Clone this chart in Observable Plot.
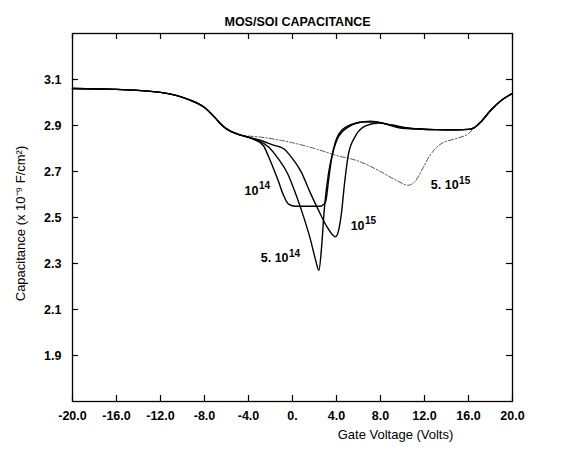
<!DOCTYPE html>
<html>
<head>
<meta charset="utf-8">
<script src="https://cdn.jsdelivr.net/npm/d3@7"></script>
<script src="https://cdn.jsdelivr.net/npm/@observablehq/plot@0.6"></script>
<style>
  body { margin: 0; background: #fff; }
  svg { font-family: "Liberation Sans", Arial, sans-serif; }
</style>
</head>
<body>
<div id="chart"></div>
<script>
// ---- data ----
const titleText = "MOS/SOI CAPACITANCE";
const xLabelText = "Gate Voltage (Volts)";
const yLabelText = "Capacitance (x 10⁻⁹ F/cm²)";

const xTicks = [-20, -16, -12, -8, -4, 0, 4, 8, 12, 16, 20];
const xTickLabels = ["-20.0", "-16.0", "-12.0", "-8.0", "-4.0", "0.", "4.0", "8.0", "12.0", "16.0", "20.0"];
const yTicks = [1.9, 2.1, 2.3, 2.5, 2.7, 2.9, 3.1];
const yTickLabels = ["1.9", "2.1", "2.3", "2.5", "2.7", "2.9", "3.1"];

// common part at negative voltages (all curves coincide)
const leftV = [-20, -16, -12, -10.5, -9.3, -8.5, -8, -7.5, -7, -6.5, -6, -5.5, -4.7];
const leftC = [3.061, 3.057, 3.044, 3.030, 3.010, 2.993, 2.978, 2.957, 2.932, 2.905, 2.885, 2.872, 2.858];
// common part at positive voltages
const rightV = [11.5, 13, 15, 16, 16.5, 17.2, 18, 19, 20];
const rightC = [2.885, 2.882, 2.881, 2.883, 2.89, 2.92, 2.965, 3.01, 3.04];

// doping 1e14
const n14V = [-3.6, -2.64, -2.18, -1.73, -1.27, -0.82, -0.36, 0.27, 1.2, 2.5, 3.0, 3.3, 3.55, 3.9, 4.6, 5.9, 7.1, 8.5, 9.8];
const n14C = [2.842, 2.812, 2.765, 2.713, 2.656, 2.597, 2.558, 2.549, 2.549, 2.549, 2.567, 2.67, 2.756, 2.829, 2.885, 2.911, 2.919, 2.906, 2.889];
// doping 5e14
const n514V = [-3.4, -2.2, -1.3, -0.45, 0.27, 0.9, 1.64, 2.09, 2.4, 2.64, 2.9, 3.27, 3.64, 4.18, 5.1, 6.36, 7.55, 8.9, 10.3];
const n514C = [2.838, 2.808, 2.756, 2.691, 2.605, 2.519, 2.403, 2.317, 2.27, 2.369, 2.541, 2.691, 2.777, 2.851, 2.894, 2.915, 2.915, 2.902, 2.889];
// doping 1e15
const n15V = [-3.1, -1.8, -0.8, 0, 0.73, 1.64, 2.36, 3.09, 3.64, 3.9, 4.18, 4.45, 4.73, 5.09, 5.73, 6.64, 7.8, 9.1, 10.5];
const n15C = [2.838, 2.816, 2.799, 2.756, 2.704, 2.605, 2.532, 2.463, 2.425, 2.416, 2.442, 2.519, 2.648, 2.777, 2.855, 2.898, 2.911, 2.902, 2.889];
// doping 5e15 (dash-dot)
const n515V = [-3, -1, 0, 2, 4, 6, 8, 9.5, 10.5, 11.2, 11.8, 12.5, 13.5, 15, 16];
const n515C = [2.85, 2.835, 2.825, 2.80, 2.77, 2.745, 2.70, 2.66, 2.64, 2.66, 2.71, 2.77, 2.82, 2.845, 2.865];

// curve labels: base text, superscript, anchor point (junction of base and exponent)
const labelBase = ["10", "5. 10", "10", "5. 10"];
const labelSup = ["14", "14", "15", "15"];
const labelV = [-3.09, -0.36, 6.55, 15.1];
const labelC = [2.614, 2.322, 2.463, 2.64];

// ---- build tables ----
function series(name, v, c, rightFrom = -Infinity) {
  const rows = [];
  leftV.forEach((x, i) => rows.push({name, V: x, C: leftC[i]}));
  v.forEach((x, i) => rows.push({name, V: x, C: c[i]}));
  rightV.forEach((x, i) => { if (x > rightFrom) rows.push({name, V: x, C: rightC[i]}); });
  return rows;
}
const solid = [
  ...series("1e14", n14V, n14C),
  ...series("5e14", n514V, n514C),
  ...series("1e15", n15V, n15C)
];
const dashed = series("5e15", n515V, n515C, 16.2);
const labels = labelBase.map((b, i) => ({b, s: labelSup[i], V: labelV[i], C: labelC[i]}));
const fmtX = d => xTickLabels[xTicks.indexOf(d)];
const fmtY = d => yTickLabels[yTicks.findIndex(t => Math.abs(t - d) < 1e-9)];

const W = 573, H = 454, mL = 72, mR = 61, mT = 33, mB = 53;
const fw = W - mL - mR, fh = H - mT - mB, tick = 6;

const chart = Plot.plot({
  width: W,
  height: H,
  marginLeft: mL,
  marginRight: mR,
  marginTop: mT,
  marginBottom: mB,
  style: {fontFamily: "'Liberation Sans', Arial, sans-serif", background: "#fff", color: "#000"},
  x: {domain: [-20, 20]},
  y: {domain: [1.7, 3.3]},
  marks: [
    Plot.frame({stroke: "#000", strokeWidth: 1.3}),
    // inward tick marks on all four sides
    Plot.tickX(xTicks, {x: d => d, insetTop: fh - tick, stroke: "#000", strokeWidth: 1.2}),
    Plot.tickX(xTicks, {x: d => d, insetBottom: fh - tick, stroke: "#000", strokeWidth: 1.2}),
    Plot.tickY(yTicks, {y: d => d, insetRight: fw - tick, stroke: "#000", strokeWidth: 1.2}),
    Plot.tickY(yTicks, {y: d => d, insetLeft: fw - tick, stroke: "#000", strokeWidth: 1.2}),
    // tick labels
    Plot.axisX(xTicks, {anchor: "bottom", tickSize: 0, tickPadding: 10, tickFormat: fmtX, fontSize: 12.5, fontWeight: "bold", label: null}),
    Plot.axisY(yTicks, {anchor: "left", tickSize: 0, tickPadding: 11, tickFormat: fmtY, fontSize: 12.5, fontWeight: "bold", label: null}),
    // curves
    Plot.line(dashed, {x: "V", y: "C", stroke: "#444", strokeWidth: 0.9, strokeDasharray: "5,2,1.5,2", curve: "monotone-x"}),
    Plot.line(solid, {x: "V", y: "C", z: "name", stroke: "#000", strokeWidth: 1.4, curve: "monotone-x"}),
    // curve labels
    Plot.text(labels, {x: "V", y: "C", text: "b", textAnchor: "end", fontSize: 12.5, fontWeight: "bold", fill: "#000"}),
    Plot.text(labels, {x: "V", y: "C", text: "s", textAnchor: "start", dx: 0.5, dy: -5, fontSize: 10, fontWeight: "bold", fill: "#000"}),
    // title and axis titles
    Plot.text([titleText], {frameAnchor: "top", dy: -16, dx: 5, fontSize: 12.5, fontWeight: "bold", fill: "#000"}),
    Plot.text([xLabelText], {frameAnchor: "bottom", dx: 103, dy: 37, fontSize: 13, fill: "#000"}),
    Plot.text([yLabelText], {frameAnchor: "left", textAnchor: "middle", rotate: -90, dx: -52, dy: 6, fontSize: 13, fill: "#000"})
  ]
});
document.getElementById("chart").appendChild(chart);
</script>
</body>
</html>
